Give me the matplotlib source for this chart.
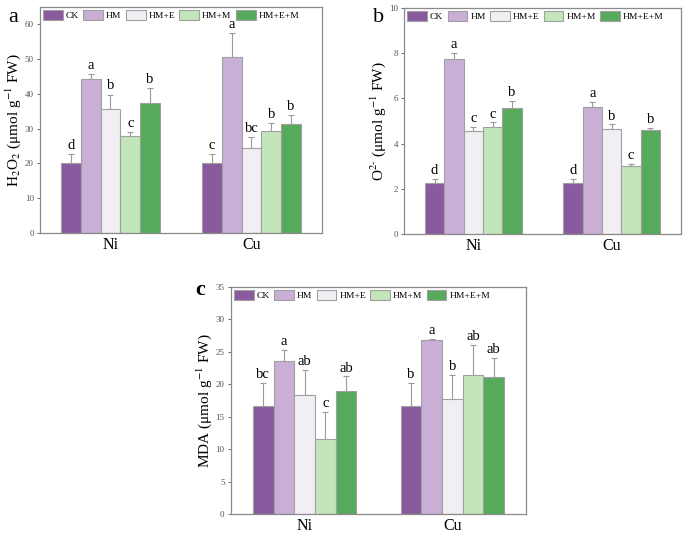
import numpy as np
import matplotlib
matplotlib.use('Agg')
import matplotlib.pyplot as plt

plt.rcParams['font.family'] = ['Liberation Serif', 'DejaVu Serif']
plt.rcParams['mathtext.fontset'] = 'stix'

metals = ['Ni', 'Cu']
treatments = ['CK', 'HM', 'HM+E', 'HM+M', 'HM+E+M']
colors = ['#8a5a9e', '#c9aed5', '#f1eff4', '#c2e5b9', '#57aa5c']

# rows = treatments, columns = Ni, Cu
h2o2 = [[20.1, 20.1], [44.4, 50.5], [35.5, 24.5], [27.8, 29.2], [37.5, 31.4]]
h2o2_err = [[2.6, 2.6], [1.2, 7.0], [4.3, 3.0], [1.2, 2.5], [4.3, 2.5]]
h2o2_sig = [['d', 'c'], ['a', 'a'], ['b', 'bc'], ['c', 'b'], ['b', 'b']]

o2 = [[2.25, 2.25], [7.75, 5.63], [4.55, 4.65], [4.72, 3.03], [5.58, 4.62]]
o2_err = [[0.17, 0.17], [0.25, 0.23], [0.2, 0.2], [0.22, 0.07], [0.32, 0.06]]
o2_sig = [['d', 'd'], ['a', 'a'], ['c', 'b'], ['c', 'c'], ['b', 'b']]

mda = [[16.7, 16.7], [23.6, 26.9], [18.4, 17.7], [11.5, 21.4], [18.9, 21.1]]
mda_err = [[3.5, 3.5], [1.7, 0.1], [3.8, 3.8], [4.2, 4.7], [2.3, 3.0]]
mda_sig = [['bc', 'b'], ['a', 'a'], ['ab', 'b'], ['c', 'ab'], ['ab', 'ab']]

fig = plt.figure(figsize=(6.85, 5.33), dpi=100)
ax_a = fig.add_axes([0.0584, 0.563, 0.4116, 0.424])
ax_b = fig.add_axes([0.590, 0.561, 0.404, 0.424])
ax_c = fig.add_axes([0.337, 0.0356, 0.431, 0.426])

edge = '#a0a0a0'
width = 0.14


def draw(ax, vals, errs, sigs, ymax, ystep, ylabel, off):
    x = np.arange(len(metals))
    for i, t in enumerate(treatments):
        xs = x + (i - 2) * width
        ax.bar(xs, vals[i], width, color=colors[i], edgecolor=edge,
               linewidth=0.8, label=t, zorder=2)
        ax.errorbar(xs, vals[i], yerr=[np.zeros(len(metals)), errs[i]],
                    fmt='none', ecolor='#9a9a9a', elinewidth=0.8,
                    capsize=2.5, capthick=0.8, zorder=1)
        for j in range(len(metals)):
            ax.text(xs[j], vals[i][j] + errs[i][j] + off, sigs[i][j],
                    ha='center', va='bottom', fontsize=10.5)
    ax.set_xlim(-0.5, 1.5)
    ax.set_ylim(0, ymax)
    ax.set_yticks(np.arange(0, ymax + 0.01, ystep))
    ax.set_xticks(x)
    ax.set_xticklabels(metals, fontsize=11.5)
    ax.tick_params(axis='y', direction='out', length=2.5, width=0.6,
                   labelsize=6.5, colors='#555555', pad=2)
    ax.tick_params(axis='x', direction='in', length=2.5, width=0.6,
                   colors='#888888', labelcolor='black', pad=3)
    for s in ax.spines.values():
        s.set_color('#8a8a8a')
        s.set_linewidth(0.9)
    ax.set_ylabel(ylabel, fontsize=11, labelpad=1)
    ax.legend(loc='upper left', ncol=5, frameon=False, fontsize=6.8,
              handlelength=2.1, handleheight=1.15, handletextpad=0.3,
              columnspacing=0.45, borderaxespad=0.15, borderpad=0.2)


draw(ax_a, h2o2, h2o2_err, h2o2_sig, 65, 10,
     r'H$_2$O$_2$ (μmol g$^{-1}$ FW)', 0.6)
draw(ax_b, o2, o2_err, o2_sig, 10, 2,
     r'O$^{2\text{-}}$ (μmol g$^{-1}$ FW)', 0.08)
draw(ax_c, mda, mda_err, mda_sig, 35, 5,
     r'MDA (μmol g$^{-1}$ FW)', 0.3)

fig.text(0.012, 0.968, 'a', fontsize=16, va='center')
fig.text(0.545, 0.968, 'b', fontsize=16, va='center')
fig.text(0.285, 0.455, 'c', fontsize=16, va='center', fontweight='bold')

fig.savefig('out.png', dpi=100)
